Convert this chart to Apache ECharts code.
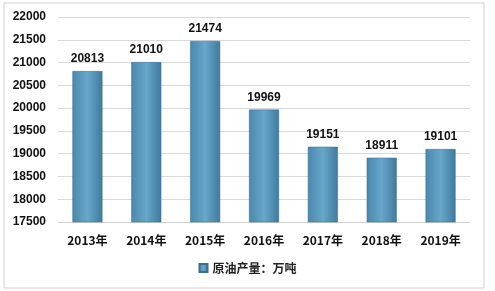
<!DOCTYPE html>
<html><head><meta charset="utf-8">
<script src="https://cdn.jsdelivr.net/npm/echarts@6/dist/echarts.min.js"></script>
<style>html,body{margin:0;padding:0;background:#fff}#c{width:495px;height:291px}</style>
</head><body><div id="c"></div>
<script>
const categories = ['2013年','2014年','2015年','2016年','2017年','2018年','2019年'];
const values = [20813, 21010, 21474, 19969, 19151, 18911, 19101];
const seriesName = '原油产量：万吨';
const yMin = 17500, yMax = 22000, yStep = 500;

const chart = echarts.init(document.getElementById('c'));
chart.setOption({
  animation: false,
  graphic: [{type:'rect', shape:{x:4,y:3,width:480,height:285}, style:{fill:'none', stroke:'#d0d0d0', lineWidth:1}}],
  grid: {left:58, right:25, top:17, bottom:69},
  legend: {bottom:12, left:'center', itemWidth:8, itemHeight:8, icon:'rect',
    textStyle:{fontSize:12, fontWeight:'bold', color:'#222', fontFamily:'Noto Sans CJK SC'}, data:[seriesName]},
  xAxis: {type:'category', data:categories,
    axisLine:{show:true, lineStyle:{color:'#d0d0d0'}}, axisTick:{show:false},
    axisLabel:{fontSize:12, fontWeight:'bold', color:'#111', margin:12, fontFamily:'Noto Sans CJK SC'}},
  yAxis: {type:'value', min:yMin, max:yMax, interval:yStep,
    axisLine:{show:false}, axisTick:{show:false},
    splitLine:{lineStyle:{color:'#d9d9d9'}},
    axisLabel:{fontSize:12, fontWeight:'bold', color:'#111', margin:12, fontFamily:'Liberation Sans',
      formatter: v => String(v)}},
  series: [{name:seriesName, type:'bar', data:values, barWidth:30,
    itemStyle:{color:new echarts.graphic.LinearGradient(0,0,1,0,[
      {offset:0,color:'#4a88ad'},{offset:0.5,color:'#67a7c9'},{offset:1,color:'#3f7a9f'}]),
      borderColor:'#3a6f90', borderWidth:0.5},
    label:{show:true, position:'top', fontSize:12, fontWeight:'bold', color:'#111', distance:6, fontFamily:'Liberation Sans'}}]
});
</script></body></html>
